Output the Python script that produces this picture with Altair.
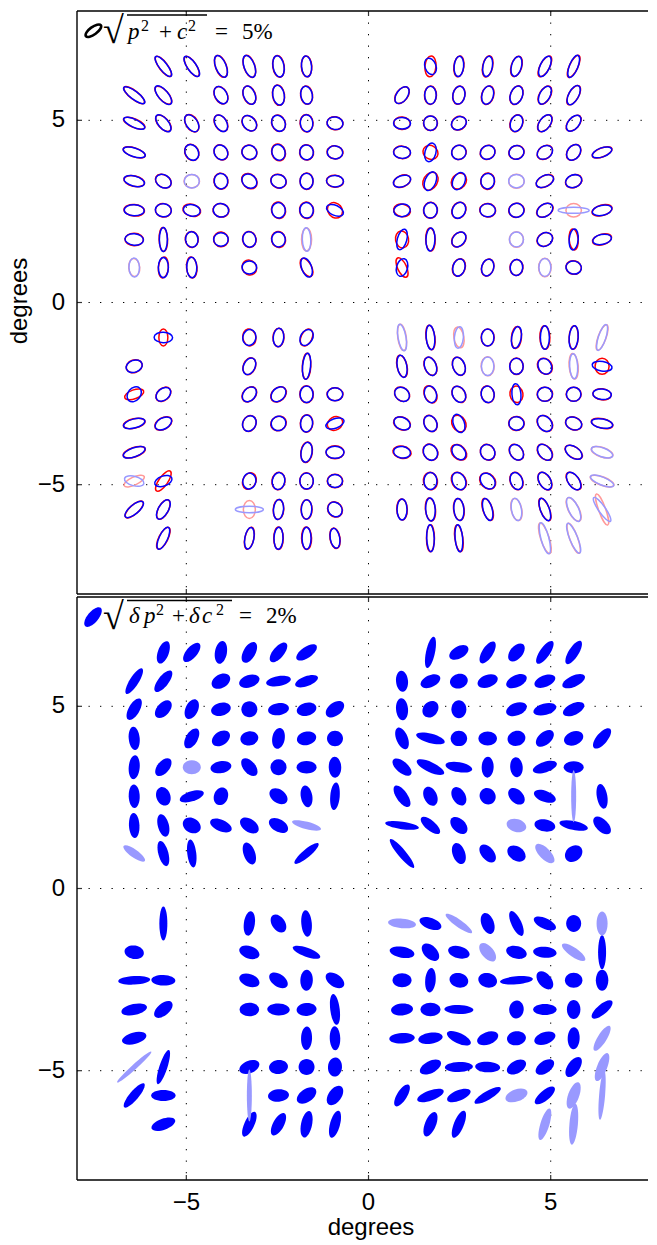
import altair as alt
import pandas as pd

COLS = [-6.43, -5.63, -4.85, -4.05, -3.27, -2.47, -1.70, -0.92,
        0.92, 1.70, 2.48, 3.27, 4.06, 4.84, 5.63, 6.41]
ROWS = [6.48, 5.69, 4.92, 4.12, 3.33, 2.53, 1.73, 0.96,
        -0.96, -1.75, -2.52, -3.32, -4.11, -4.90, -5.68, -6.47]
TICKS = [-5, 0, 5]
TICK_TEXT = ["\u22125", "0", "5"]

# each row: (column index, major, minor, position angle in degrees)
P1_BLUE = [
 [(1,26,9,128),(2,25,10,125),(3,24,11.5,112),(4,24,11.5,110),(5,22.5,12,100),(6,22,11,95),(9,18,12,110),(10,21.5,10.5,85),(11,21.5,10.5,80),(12,21.5,11,75),(13,23,10.5,65),(14,24.5,9.5,68)],
 [(0,27,9,143),(1,24,11,130),(3,19.5,13,120),(4,20,12.5,112),(5,21,12.5,100),(6,19,12.5,100),(8,20,12,55),(9,19,12.5,90),(10,19,13,80),(11,19.5,12.5,75),(12,20,13,70),(13,20.5,11.5,62),(14,22,11,62)],
 [(0,24,9,155),(1,21.5,11,130),(2,20,12.5,125),(3,19,12.5,120),(4,18,13.5,130),(5,17.5,14,115),(6,18,13.5,95),(7,17,13.5,170),(8,18,12.5,178),(9,15.5,14.5,90),(10,16.5,13.5,30),(12,18,13,70),(13,20,12,55),(14,19.5,12,50)],
 [(0,24,9.5,163),(2,17.5,14,120),(3,16.5,14,125),(4,16,15,150),(5,17,14,110),(6,16,14.5,100),(7,16.5,14,175),(8,18,13,178),(9,20,12,75),(10,15.5,15,30),(11,16,14.5,30),(12,16,14.5,20),(13,17.5,13.5,35),(14,18,13.5,55),(15,21.5,10,20)],
 [(0,22,11,165),(1,17.5,13.5,150),(2,16,14.5,0),(3,16.5,14.5,100),(4,17,14,140),(5,16.5,14.2,160),(6,17,14,90),(7,18,12.5,178),(8,19,12,20),(9,20.5,12,68),(10,19,13,65),(11,16.5,14.5,80),(12,16.5,14.5,0),(13,19.5,12,25),(14,17.5,13.5,20)],
 [(0,21,12,178),(1,17,14,175),(2,18,12.5,170),(3,16.5,14.5,170),(5,16.5,14.5,100),(6,16.5,14.5,95),(7,19,11,155),(8,17.5,13.5,10),(9,16.5,14.5,85),(10,17.5,14,65),(11,16.5,14,175),(12,16,15,10),(13,18.5,13,35),(14,32,7,0),(15,21,11,12)],
 [(0,19.5,12.5,175),(1,25,9,90),(2,16.5,13.5,95),(3,15.5,14.5,0),(4,16.5,14,100),(5,16,14.5,100),(6,24.5,9.5,92),(8,22,10.5,75),(9,24,10,88),(10,17.5,13,50),(12,16,15,90),(13,17,14,30),(14,22,10,85),(15,20,11,12)],
 [(0,20,11.5,92),(1,21,11,90),(2,21.5,11,92),(4,15.5,14,0),(6,21,11,110),(8,19,12,75),(10,18.5,13,75),(11,18,13,75),(12,17,13.5,85),(13,19,13,90),(14,16.5,14,170)],
 [(1,19.5,11.5,178),(4,17,14,80),(5,19.5,11.5,85),(6,18,13,60),(8,28,9,100),(9,25.5,9.5,95),(10,22.5,10,85),(11,18,13.5,90),(12,23,10.5,80),(13,24.5,10,90),(14,24.5,10,85),(15,28,8.5,72)],
 [(0,17.5,13,20),(4,18.5,12.5,65),(6,27,9,85),(8,23.5,10.5,100),(9,20,12.5,110),(10,19.5,13,110),(11,19.5,13.5,90),(12,17,14.5,90),(13,17.5,14,120),(14,26,9,93),(15,21,10.5,170)],
 [(0,17.5,13.5,50),(1,17.5,12.5,40),(4,17.5,13,50),(5,18,13.5,45),(6,17.5,14,90),(7,16.5,14,0),(8,17,14,140),(9,18,13,105),(10,18,13.5,120),(11,17.5,14,100),(12,22,10,95),(13,16,15,0),(14,15.5,15,0),(15,19.5,11.5,175)],
 [(0,23,10,15),(1,19,12,30),(4,17,14,65),(5,16,15,30),(6,18,13,85),(7,20,10.5,20),(8,18,13,155),(9,17.5,13.5,115),(10,20,12,110),(12,16,14.5,175),(13,18.5,14,130),(14,17.5,13.5,160),(15,22.5,10,170)],
 [(0,24,10,20),(6,21,12,80),(7,19,13,0),(8,18,12.5,170),(9,17.5,14.5,120),(10,17.5,13,130),(11,17,15,120),(12,18,13.5,125),(13,19,13,130),(14,20,12,145),(15,23.5,10,160)],
 [(0,21,10.5,165),(1,19,11,20),(4,17,14,80),(5,18,13.5,80),(6,17,14.5,90),(7,16,14,0),(9,18,14,90),(10,19,14,115),(11,18.5,14,130),(12,18.5,13,110),(13,20,12.5,120),(14,21,12,125),(15,26,9,158)],
 [(0,24,10,40),(1,22.5,11,60),(4,29,7.5,0),(5,21,11,85),(6,20.5,11.5,88),(7,16.5,14.5,130),(8,22,11,90),(9,24,10.5,93),(10,23,11,95),(11,23.5,10,105),(12,23.5,11,100),(13,24.5,10,110),(14,27,11,115),(15,30,8,125)],
 [(1,25,9.5,65),(4,23,10,80),(5,23,10,88),(6,23,10,90),(7,21,10.5,100),(9,28,8.5,92),(10,28,8.5,95),(13,33,9,105),(14,33,9,112)],
]
P1_RED = [
 [(1,25.5,9.5,127),(2,24.5,10,124),(3,24,12,110),(4,24,12,108),(5,23,12.5,98),(6,22,11.5,93),(9,22,12,85),(10,22,11,83),(11,22.5,11,78),(12,22,11.5,73),(13,24,10.5,62),(14,25,9.5,65)],
 [(0,26.5,9.5,142),(1,23.5,11,132),(3,19.5,13.5,118),(4,20,13,110),(5,21.5,13,98),(6,19.5,13,98),(8,20,12.5,53),(9,19.5,13,88),(10,19.5,13,78),(11,20,13,73),(12,20.5,13,68),(13,21,12,60),(14,22.5,11,60)],
 [(0,24,9.5,157),(1,21,11.5,132),(2,20,13,122),(3,19,13,122),(4,18,14,132),(5,18,14.5,112),(6,18.5,14,93),(7,17,14,172),(8,17.5,13.5,175),(9,15.5,15,90),(10,16.5,14,32),(12,18.5,13.5,68),(13,20.5,12,52),(14,20,12,48)],
 [(0,24,10,161),(2,18,14.5,118),(3,17,14,122),(4,16.5,15,145),(5,18,14.5,108),(6,16.5,15,98),(7,17,14,172),(8,18,13.5,175),(9,16.5,14.5,150),(10,16,15,35),(11,16.5,14.5,35),(12,16.5,14.5,25),(13,18,13.5,38),(14,18.5,13.5,52),(15,22,10,22)],
 [(0,22,11.5,168),(1,18,13.5,148),(2,16.5,14.5,0),(3,17,15,100),(4,18,14.5,135),(5,17,14.5,155),(6,17.5,14,88),(7,18,13,175),(8,19,12.5,22),(9,20,15,60),(10,18,15,50),(11,17.5,15,85),(12,16.5,15,0),(13,20,12,28),(14,18,13.5,22)],
 [(0,21.5,12.5,175),(1,17,14.5,172),(2,19,13,165),(3,17,14.5,170),(5,17.5,15,105),(6,17.5,15,100),(7,17.5,15,130),(8,18,13.5,170),(9,17,15,85),(10,18,14.5,62),(11,17,14.5,175),(12,16.5,15,15),(13,19,13,32),(14,16.5,14.5,0),(15,21.5,11.5,15)],
 [(0,19.5,13.5,178),(1,25,9.5,92),(2,17,14,95),(3,16,15.5,130),(4,17,14.5,100),(5,17,15,105),(6,24,11,90),(8,18,14,100),(9,24,10.5,92),(10,17.5,13.5,48),(12,16.5,15,90),(13,17.5,14,28),(14,22,10,95),(15,20.5,11.5,15)],
 [(0,19,12,95),(1,22,11,85),(2,22,11.5,95),(4,16.5,15,130),(6,21,11,118),(8,22,10,115),(10,19,13.5,72),(11,18.5,13,72),(12,17,14,85),(13,19.5,13.5,90),(14,16.5,14.5,165)],
 [(1,18,10,90),(4,18,14,100),(5,19.5,12,88),(6,19,12,65),(8,27.5,9.5,98),(9,25.5,10,97),(10,22,11,100),(11,18,14,90),(12,23,11,85),(13,24.5,11,92),(14,24.5,10,87),(15,28,9,70)],
 [(0,17.5,13.5,18),(4,18.5,13,68),(6,27,9.5,87),(8,23.5,11,103),(9,20,13,112),(10,20,13,112),(11,20,14,92),(12,17.5,14.5,90),(13,18,15,125),(14,26.5,10,95),(15,17,15,90)],
 [(0,21,10,20),(1,18,13,42),(4,18,13.5,48),(5,18.5,14,42),(6,18,14.5,92),(7,17,14,0),(8,17.5,14,142),(9,19,13,115),(10,18.5,13.5,122),(11,18,14,102),(12,17.5,14,100),(13,16.5,15,5),(14,16,15,0),(15,19.5,12,173)],
 [(0,23,10.5,12),(1,19.5,12.5,28),(4,17.5,14,68),(5,17,15,30),(6,18.5,13.5,87),(7,17,14,30),(8,18.5,13.5,158),(9,18,13.5,117),(10,18.5,14.5,120),(12,16.5,15,175),(13,19,14.5,132),(14,18,13.5,158),(15,23,10.5,167)],
 [(0,24,10.5,18),(6,21.5,12.5,82),(7,19,14,0),(8,19.5,13,170),(9,18,15,122),(10,19,14,135),(11,17.5,15,122),(12,18.5,13.5,127),(13,19.5,13.5,132),(14,20.5,12,147),(15,23.5,10.5,162)],
 [(0,23,9,25),(1,25,10,55),(4,18,14,65),(5,18.5,14,82),(6,17.5,14.5,92),(7,16.5,14.5,0),(9,18.5,15,100),(10,19.5,15,120),(11,19,15,135),(12,19,13.5,112),(13,20.5,12.5,122),(14,21.5,12,127),(15,26,9.5,160)],
 [(0,24,10,42),(1,22.5,11,62),(4,19,13,90),(5,21,11.5,87),(6,20.5,12,90),(7,17,15,130),(8,22,11.5,92),(9,24,11,96),(10,23,11.5,97),(11,24,10.5,108),(12,23.5,11.5,102),(13,25,10,112),(14,27,11.5,117),(15,34,8,110)],
 [(1,25,10,63),(4,23.5,10,78),(5,23.5,10.5,90),(6,23.5,11,92),(7,21.5,11,100),(9,28,9,90),(10,28,9,98),(13,33,9.5,108),(14,33,9,110)],
]
P1_FAINT = [(4,2),(4,12),(5,14),(6,6),(6,12),(7,0),(7,13),(8,8),(8,10),(8,15),(9,11),(9,14),
            (12,15),(13,0),(13,15),(14,4),(14,12),(14,14),(14,15),(15,13),(15,14)]

P2_BLUE = [
 [(1,23.5,11,70),(2,23.5,11,50),(3,23,12,80),(4,23,12,60),(5,24,11,50),(6,24,11,35),(9,32,9,78),(10,21,12,30),(11,25,11,58),(12,21,12.5,50),(13,27,10,55),(14,27,10,58)],
 [(0,30,9,58),(1,26,10.5,52),(3,20,13.5,30),(4,21,12.5,18),(5,25,10,10),(6,24,10,20),(8,21,12,95),(9,21,12,25),(10,18,14.5,15),(11,21,12.5,20),(12,22,12,25),(13,22,11.5,22),(14,24.5,11,25)],
 [(0,24,11,60),(1,21,12.5,48),(2,21,12.5,65),(3,20,13,15),(4,16,16,0),(5,21,12,8),(6,20,13,15),(7,21,13,38),(8,22,12,95),(9,18,14.5,50),(10,18,15,90),(12,21.5,12.5,20),(13,23.5,11.5,15),(14,23,11.5,25)],
 [(0,23.5,11,95),(2,22,12,60),(3,20,13.5,35),(4,18,14,10),(5,21,12.5,80),(6,19.5,13.5,12),(7,16,15.5,0),(8,23,11.5,112),(9,29.5,9.5,165),(10,16.5,15.5,0),(11,18.5,14,0),(12,18,15,15),(13,21,12.5,40),(14,20,13.5,22),(15,25,11,50)],
 [(0,24,11,85),(1,21,12,50),(2,18,14,0),(3,21,12,10),(4,21,12,130),(5,16,16,0),(6,20,12.5,0),(7,21,12.5,92),(8,23,11.5,140),(9,30,10,155),(10,27,10,170),(11,21,12,88),(12,20,12.5,95),(13,25,10.5,18),(14,20,12,0)],
 [(0,23.5,11,92),(1,19,14,110),(2,25,10,18),(3,18,14,70),(5,20,13.5,145),(6,22,11.5,100),(7,27.5,9.5,85),(8,25,11,125),(9,20,13,115),(10,20,13,120),(11,17,15.5,130),(12,19.5,13,135),(13,23,11,160),(14,52,5,90),(15,25,10.5,100)],
 [(0,25,10.5,93),(1,23,11,105),(2,19,14.5,150),(3,23,11.5,157),(4,21,13,145),(5,21,12.5,150),(6,30,7.5,165),(8,34,7.5,172),(9,24,10,140),(10,20.5,13,135),(12,20,13,165),(13,21,12,170),(14,29,9,168),(15,22,12,135)],
 [(0,26,8,145),(1,26,10,105),(2,28,9,97),(4,23,11.5,110),(6,31,8,40),(8,37,8,130),(10,22,12.5,110),(11,21,12.5,130),(12,20,14,145),(13,25,11,135),(14,19,15,40)],
 [(1,34,8,90),(4,24.5,11,82),(5,20,13,125),(6,26.5,10.5,95),(8,28,9.5,175),(9,23,11,160),(10,32,7.5,145),(11,22,12.5,110),(12,27,10,115),(13,24,10.5,155),(14,17,15,90),(15,24,11,90)],
 [(0,19.5,13.5,170),(4,21,12.5,160),(6,29,9,160),(8,25,11,170),(9,21,13,135),(10,22,12,165),(11,22,12,130),(12,21,12.5,165),(13,23.5,11,175),(14,28,9,145),(15,34,8,90)],
 [(0,32,8.5,3),(1,24,10.5,178),(4,21,12.5,160),(5,21,12.5,145),(6,21,12.5,88),(7,21,12.5,145),(8,19,14,0),(9,24.5,10.5,85),(10,19,14.5,165),(11,19,14.5,165),(12,33,8,5),(13,21,13,130),(14,17.5,15,0),(15,21,12.5,90)],
 [(0,26,11,12),(1,22,12,40),(4,19.5,13.5,0),(5,22.5,12,178),(6,20,13,5),(7,31,9.5,97),(8,22,12,5),(9,20,13.5,0),(10,29,9,178),(12,18,14.5,85),(13,23.5,11,0),(14,19,13.5,90),(15,26,10,40)],
 [(0,25,11.5,15),(6,23.5,11,88),(7,24,10.5,92),(8,25.5,10.5,3),(9,24.5,11,8),(10,26,10.5,155),(11,22,12.5,20),(12,19,14,8),(13,22,12,20),(14,22,12,88),(15,29,9,58)],
 [(0,46,5,42),(1,36,8,72),(4,21,12.5,22),(5,19,14,8),(6,16,16,0),(7,19,14,85),(9,23,12,27),(10,28,10,2),(11,25,10.5,177),(12,21,12.5,30),(13,21,12,35),(14,23,12,55),(15,30,10,68)],
 [(0,31,9,50),(1,24.5,11,0),(4,52,5,90),(5,21,12.5,5),(6,22,13,35),(7,22,13,55),(8,25,10,58),(9,28,10,20),(10,25,10.5,22),(11,30,8.5,30),(12,23,12,20),(13,25,10,40),(14,28,11,70),(15,49,6,85)],
 [(1,25,11,20),(4,27,10,65),(5,25,11,62),(6,27,11,78),(7,28,10,75),(9,26,11,68),(10,29,10,68),(13,33,9,73),(14,41,8.5,85)],
]
P2_FAINT = [(4,2),(5,14),(6,6),(6,12),(7,0),(7,13),(8,8),(8,10),(8,15),(9,11),(9,14),
            (12,15),(13,0),(13,15),(14,4),(14,12),(14,14),(14,15),(15,13),(15,14)]

# legend ellipses: x, y, major, minor, angle
KEY_1 = (-7.55, 7.46, 21, 10, 36)
KEY_2 = (-7.56, 7.45, 24, 11, 50)

W, H = 571, 583
LEFT, TOP1, TOP2 = 78, 10, 597
FONT = "Liberation Sans"
MATH = "Liberation Serif"


def glyph(x, y, a, b, t, color, inset=0.0):
    a, b = a - inset, b - inset
    r = b / a
    return dict(x=x, y=y, size=a * a, rot=(180 - t) % 180, color=color,
                path=f"M-1,0A1,{r:.3f} 0 1 1 1,0A1,{r:.3f} 0 1 1 -1,0Z")


def table(rows, faint, color, pale, inset):
    solid, light = [], []
    for ri, row in enumerate(rows):
        for c, a, b, t in row:
            is_faint = (ri, c) in faint
            rec = glyph(COLS[c], ROWS[ri], a, b, t, pale if is_faint else color, inset)
            (light if is_faint else solid).append(rec)
    return pd.DataFrame(solid + light)


xs = alt.Scale(domain=[-8, 7.67], nice=False, zero=False)
ys = alt.Scale(domain=[-8, 8], nice=False, zero=False)
X_V = alt.X("v:Q", scale=xs, axis=None)
Y_V = alt.Y("v:Q", scale=ys, axis=None)
ticks_df = pd.DataFrame({"v": TICKS, "t": TICK_TEXT})


def enc(ch, outline):
    paint = alt.Stroke("color:N", scale=None) if outline else alt.Fill("color:N", scale=None)
    kw = {"stroke": paint} if outline else {"fill": paint}
    return ch.encode(
        x=alt.X("x:Q", scale=xs, axis=None),
        y=alt.Y("y:Q", scale=ys, axis=None),
        size=alt.Size("size:Q", scale=None, legend=None),
        angle=alt.Angle("rot:Q", scale=None),
        shape=alt.Shape("path:N", scale=None, legend=None),
        **kw,
    )


def outlines(df, width=1.5):
    return enc(alt.Chart(df).mark_point(filled=False, opacity=1, strokeWidth=width, clip=True), True)


def solids(df):
    return enc(alt.Chart(df).mark_point(filled=True, opacity=1, strokeWidth=0, clip=True), False)


def grid():
    c = alt.Chart(ticks_df).mark_rule(color="#000000", strokeWidth=1, strokeDash=[1.3, 10.2])
    return [c.encode(x=X_V, y=alt.value(0), y2=alt.value(H)),
            c.encode(y=Y_V, x=alt.value(0), x2=alt.value(W))]


def ticks():
    c = alt.Chart(ticks_df).mark_rule(color="#333333", strokeWidth=1.2)
    return [
        c.encode(x=X_V, y=alt.value(0), y2=alt.value(5)),
        c.encode(x=X_V, y=alt.value(H), y2=alt.value(H - 5)),
        c.encode(y=Y_V, x=alt.value(0), x2=alt.value(5)),
    ]


def border():
    c = alt.Chart(pd.DataFrame({"k": [0]})).mark_rule(color="#000000", strokeWidth=1.4)
    return [
        c.encode(x=alt.value(0), x2=alt.value(W), y=alt.value(0)),
        c.encode(x=alt.value(0), x2=alt.value(W), y=alt.value(H)),
        c.encode(x=alt.value(0), y=alt.value(0), y2=alt.value(H)),
    ]


def tick_labels(show_x):
    out = [alt.Chart(ticks_df).mark_text(font=FONT, fontSize=24, color="#000000", align="right",
                                         baseline="middle").encode(y=Y_V, x=alt.value(-12), text="t:N")]
    if show_x:
        out.append(alt.Chart(ticks_df).mark_text(font=FONT, fontSize=24, color="#000000", align="center",
                                                 baseline="middle").encode(x=X_V, y=alt.value(H + 23), text="t:N"))
    return out


def word(txt, px, py, size=23, italic=False, font=MATH, top=TOP1, align="left", baseline="alphabetic", angle=0):
    return alt.Chart(pd.DataFrame({"t": [txt]})).mark_text(
        font=font, fontSize=size, fontStyle="italic" if italic else "normal",
        align=align, baseline=baseline, color="#000000", angle=angle,
    ).encode(x=alt.value(px - LEFT), y=alt.value(py - top), text="t:N")


def bar(x1, x2, py, top):
    return alt.Chart(pd.DataFrame({"k": [0]})).mark_rule(color="#000000", strokeWidth=1.5).encode(
        x=alt.value(x1 - LEFT), x2=alt.value(x2 - LEFT), y=alt.value(py - top))


def panel(top_layers, show_x):
    return alt.layer(*grid(), *ticks(), *border(), *tick_labels(show_x), *top_layers).properties(width=W, height=H)


# top panel
blue1 = table(P1_BLUE, set(P1_FAINT), "#0000ff", "#9999ff", 1.0)
red1 = table(P1_RED, set(P1_FAINT), "#ff0000", "#ff9999", 1.0)
key1 = pd.DataFrame([glyph(KEY_1[0], KEY_1[1], KEY_1[2], KEY_1[3], KEY_1[4], "#000000", 2.5)])
words1 = [
    word("√", 104, 42, size=38),
    bar(128, 208, 14, TOP1),
    word("p", 129, 38, italic=True),
    word("2", 142, 30, size=16),
    word("+", 160, 38),
    word("c", 178, 38, italic=True),
    word("2", 189, 30, size=16),
    word("=", 216, 38),
    word("5%", 243, 38),
    word("degrees", 21, 300, size=24, font=FONT, align="center", baseline="middle", angle=270),
]
top = panel([outlines(red1), outlines(blue1), outlines(key1, 2.6)] + words1, False)

# bottom panel
blue2 = table(P2_BLUE, set(P2_FAINT), "#0000ff", "#9999ff", 0)
key2 = pd.DataFrame([glyph(KEY_2[0], KEY_2[1], KEY_2[2], KEY_2[3], KEY_2[4], "#0000ff")])
words2 = [
    word("√", 104, 629, size=38, top=TOP2),
    bar(128, 233, 600.5, TOP2),
    word("δ", 130, 623, italic=True, top=TOP2),
    word("p", 145, 623, italic=True, top=TOP2),
    word("2", 157, 615, size=16, top=TOP2),
    word("+", 173, 623, top=TOP2),
    word("δ", 190, 623, italic=True, top=TOP2),
    word("c", 203, 623, italic=True, top=TOP2),
    word("2", 217, 615, size=16, top=TOP2),
    word("=", 240, 623, top=TOP2),
    word("2%", 267, 623, top=TOP2),
    word("degrees", 372, 1235, size=24, font=FONT, top=TOP2, align="center"),
]
bottom = panel([solids(blue2), solids(key2)] + words2, True)

chart = alt.vconcat(top, bottom, spacing=1).properties(
    padding={"left": 0, "right": 0, "top": 2, "bottom": 0},
    background="#ffffff",
).configure_view(stroke=None)
chart.save("out.html", embed_options={"renderer": "svg", "actions": False})
